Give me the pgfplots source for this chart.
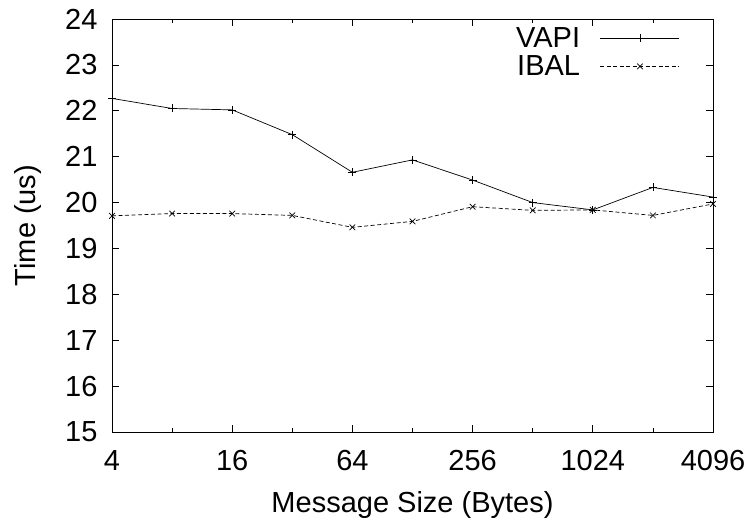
\documentclass[border=0pt]{standalone}
\usepackage{fontspec}
\setmainfont{Liberation Sans}
\usepackage{pgfplots}
\pgfplotsset{compat=1.18}
\begin{document}
\begin{tikzpicture}[x=1pt,y=1pt]
\path[use as bounding box] (-112pt,-91pt) rectangle (637pt,432pt);
\begin{axis}[
  at={(0,0)}, anchor=south west,
  scale only axis, width=601pt, height=413pt,
  xmode=log, log basis x=2,
  xmin=4, xmax=4096, ymin=15, ymax=24,
  xtick={4,16,64,256,1024,4096},
  xticklabels={4,16,64,256,1024,4096},
  extra x ticks={8,32,128,512,2048},
  extra x tick labels={},
  extra x tick style={major tick length=4pt},
  ytick={15,16,17,18,19,20,21,22,23,24},
  /pgf/number format/assume math mode=true,
  tick align=inside, tick pos=both,
  major tick length=7pt,
  every tick/.style={black, line width=0.7pt},
  axis line style={line width=0.8pt},
  ticklabel style={font=\fontsize{29}{34}\selectfont},
  yticklabel style={xshift=-11pt},
  xticklabel style={yshift=-15pt},
  label style={font=\fontsize{29}{34}\selectfont},
  xlabel={Message Size (Bytes)},
  ylabel={Time (us)},
  xlabel style={yshift=-14pt},
  ylabel style={yshift=17pt},
  legend plot pos=right,
  legend cell align=right,
  legend style={draw=none, fill=none, font=\fontsize{29}{34}\selectfont,
    at={(1,1)}, anchor=north east, xshift=-30pt, yshift=-4pt,
    row sep=3pt, column sep=18pt},
  legend image code/.code={\draw[mark repeat=2,mark phase=2,#1] plot coordinates {(0pt,0pt) (39.5pt,0pt) (79pt,0pt)};},
]
\addplot[black, line width=0.7pt, mark=+, mark size=4pt, mark options={solid}] coordinates {
(4,22.27) (8,22.05) (16,22.02) (32,21.48) (64,20.66) (128,20.93)
(256,20.49) (512,20.0) (1024,19.84) (2048,20.33) (4096,20.12)};
\addlegendentry{VAPI}
\addplot[black, line width=0.7pt, dash pattern=on 4pt off 2.5pt, mark=x, mark size=4pt, mark options={solid}] coordinates {
(4,19.71) (8,19.76) (16,19.76) (32,19.72) (64,19.46) (128,19.59)
(256,19.91) (512,19.83) (1024,19.84) (2048,19.72) (4096,19.97)};
\addlegendentry{IBAL}
\end{axis}
\end{tikzpicture}
\end{document}
